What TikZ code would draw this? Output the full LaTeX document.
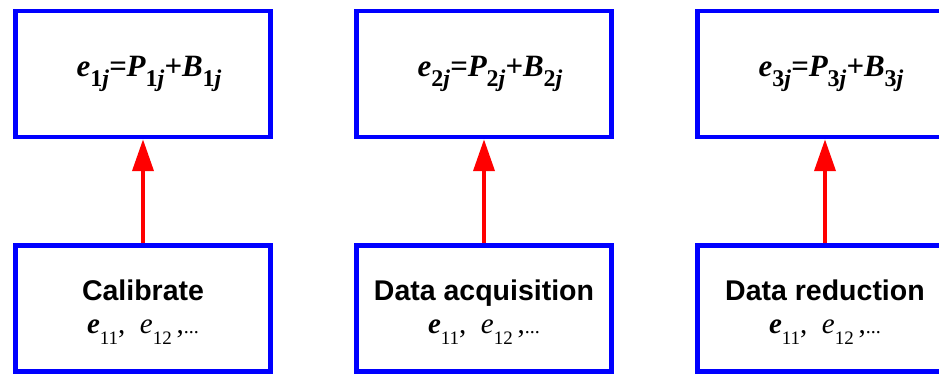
\documentclass[tikz,border=0pt]{standalone}
\usepackage{fontspec}
\setmainfont{Liberation Serif}
\setsansfont{Liberation Sans}
\usetikzlibrary{positioning, arrows.meta}
\newcommand{\eqsub}[1]{\raisebox{-10pt}{\fontsize{24}{24}\selectfont{\upshape #1}j}}
\newcommand{\valsub}[1]{\raisebox{-11pt}{\fontsize{19}{19}\selectfont\mdseries\upshape #1}}
\newcommand{\eline}{{\rmfamily\mdseries\fontsize{29}{32}\selectfont{\bfseries\itshape e}\valsub{11}, \ {\itshape e}\valsub{12}\,,{\fontsize{20}{20}\selectfont...}}}
\tikzset{
    eqbox/.style   = {draw=blue, line width=4.5pt, minimum width=255pt,
                      minimum height=126pt, inner sep=0pt,
                      font=\fontsize{31}{36}\selectfont\bfseries\itshape},
    stepbox/.style = {eqbox, align=center,
                      font=\fontsize{28.5}{32}\selectfont\sffamily\bfseries},
    edge/.style    = {-{Triangle[length=32pt, width=21pt]}, line width=4pt, red},
}
\begin{document}
\begin{tikzpicture}[x=1pt, y=-1pt]

\clip (0,0) rectangle (939,374);

\node[eqbox] (eq1) at (143,74) {\hspace*{12pt}e\eqsub{1}=P\eqsub{1}+B\eqsub{1}};
\node[eqbox, right=81.5pt of eq1] (eq2) {\hspace*{12pt}e\eqsub{2}=P\eqsub{2}+B\eqsub{2}};
\node[eqbox, right=81.5pt of eq2] (eq3) {\hspace*{12pt}e\eqsub{3}=P\eqsub{3}+B\eqsub{3}};

\node[stepbox, below=104pt of eq1] (calib) {\rule{0pt}{27pt}Calibrate\\[1pt]\eline};
\node[stepbox, below=104pt of eq2] (acq)   {\rule{0pt}{27pt}Data acquisition\\[1pt]\eline};
\node[stepbox, below=104pt of eq3] (red)   {\rule{0pt}{27pt}Data reduction\\[1pt]\eline};

\draw[edge] (calib) -- (eq1);
\draw[edge] (acq)   -- (eq2);
\draw[edge] (red)   -- (eq3);

\end{tikzpicture}
\end{document}
